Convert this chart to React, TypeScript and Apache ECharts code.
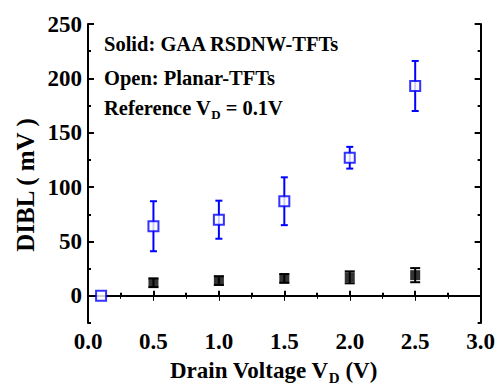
import React, { useEffect, useRef } from "react";
import * as echarts from "echarts";

const xPlanar = [0.1, 0.5, 1.0, 1.5, 2.0, 2.5];
const yPlanar = [0, 64, 70, 87, 127, 193];
const ePlanar = [0, 23, 17.5, 22, 10, 23];

const xGaa = [0.5, 1.0, 1.5, 2.0, 2.5];
const yGaa = [12, 14, 16, 17, 19];
const eGaa = [4, 4, 4, 5.5, 6.5];

const yMajor = [0, 50, 100, 150, 200, 250];
const yMinor = [-25, 25, 75, 125, 175, 225];

const FONT = "'Liberation Serif', 'Times New Roman', serif";
const BLUE = "#0000ff";

function errSeries(xs: number[], ys: number[], es: number[], color: string, cap: number) {
  return {
    type: "custom",
    xAxisIndex: 0,
    yAxisIndex: 0,
    silent: true,
    z: 1,
    data: xs.map((x, i) => [x, ys[i] - es[i], ys[i] + es[i]]),
    renderItem: (params: any, api: any) => {
      if (api.value(2) - api.value(1) <= 0) return null;
      const lo = api.coord([api.value(0), api.value(1)]);
      const hi = api.coord([api.value(0), api.value(2)]);
      const st = { stroke: color, lineWidth: 2 };
      return {
        type: "group",
        children: [
          { type: "line", shape: { x1: lo[0], y1: lo[1], x2: hi[0], y2: hi[1] }, style: st },
          { type: "line", shape: { x1: lo[0] - cap, y1: lo[1], x2: lo[0] + cap, y2: lo[1] }, style: st },
          { type: "line", shape: { x1: hi[0] - cap, y1: hi[1], x2: hi[0] + cap, y2: hi[1] }, style: st },
        ],
      };
    },
  };
}

export default function App() {
  const ref = useRef<HTMLDivElement>(null);
  useEffect(() => {
    const chart = echarts.init(ref.current!, null, { renderer: "svg" });
    const axLine = { show: true, lineStyle: { color: "#000", width: 2 } };
    const yBase = { type: "value", min: -25, max: 250, splitLine: { show: false } };
    chart.setOption({
      animation: false,
      backgroundColor: "#fff",
      grid: { left: 88, right: 15, top: 24, bottom: 62 },
      xAxis: [
        {
          type: "value", min: 0, max: 3, interval: 0.5, position: "bottom",
          axisLine: axLine,
          axisTick: { inside: true, length: 5, lineStyle: { width: 2, color: "#000" } },
          minorTick: { show: true, splitNumber: 2, length: 3, lineStyle: { width: 2, color: "#000" } },
          splitLine: { show: false },
          axisLabel: { color: "#000", fontFamily: FONT, fontWeight: "bold", fontSize: 23, margin: 7, formatter: (v: number) => v.toFixed(1) },
        },
        {
          type: "value", min: 0, max: 3, interval: 0.5, position: "top",
          axisLine: axLine,
          axisTick: { inside: true, length: 5, lineStyle: { width: 1, color: "#000" } },
          minorTick: { show: true, splitNumber: 2, length: 3, lineStyle: { width: 1, color: "#000" } },
          splitLine: { show: false },
          axisLabel: { show: false },
        },
      ],
      yAxis: [
        {
          ...yBase, position: "left",
          axisLine: axLine,
          axisTick: { inside: true, length: 6, customValues: yMajor, lineStyle: { width: 2, color: "#000" } },
          axisLabel: { customValues: yMajor, color: "#000", fontFamily: FONT, fontWeight: "bold", fontSize: 23, margin: 6 },
        },
        {
          ...yBase, position: "left",
          axisLine: { show: false },
          axisTick: { inside: true, length: 3, customValues: yMinor, lineStyle: { width: 2, color: "#000" } },
          axisLabel: { show: false },
        },
        {
          ...yBase, position: "right",
          axisLine: axLine,
          axisTick: { inside: true, length: 6, customValues: yMajor, lineStyle: { width: 2, color: "#000" } },
          axisLabel: { show: false },
        },
        {
          ...yBase, position: "right",
          axisLine: { show: false },
          axisTick: { inside: true, length: 3, customValues: yMinor, lineStyle: { width: 2, color: "#000" } },
          axisLabel: { show: false },
        },
      ],
      series: [
        errSeries(xPlanar, yPlanar, ePlanar, BLUE, 3.5),
        errSeries(xGaa, yGaa, eGaa, "#000", 5),
        {
          name: "Planar-TFTs", type: "scatter", z: 3,
          data: xPlanar.map((x, i) => [x, yPlanar[i]]),
          symbol: "rect", symbolSize: 10,
          itemStyle: { color: "#fff", borderColor: BLUE, borderWidth: 2 },
        },
        {
          name: "GAA RSDNW-TFTs", type: "scatter", z: 3,
          data: xGaa.map((x, i) => [x, yGaa[i]]),
          symbol: "rect", symbolSize: 10,
          itemStyle: { color: "#000" },
        },
      ],
      graphic: [
        { type: "text", left: 104, top: 33, style: { text: "Solid: GAA RSDNW-TFTs", font: `bold 20.5px ${FONT}`, fill: "#000" } },
        { type: "text", left: 104, top: 67, style: { text: "Open: Planar-TFTs", font: `bold 20.5px ${FONT}`, fill: "#000" } },
        {
          type: "text", left: 104, top: 97,
          style: {
            text: "Reference V{s|D} = 0.1V", font: `bold 20.5px ${FONT}`, fill: "#000",
            rich: { s: { font: `bold 13px ${FONT}`, fill: "#000", padding: [14, 0, 0, 0] } },
          },
        },
        {
          type: "text", left: 170, top: 359,
          style: {
            text: "Drain Voltage V{s|D} (V)", font: `bold 23px ${FONT}`, fill: "#000",
            rich: { s: { font: `bold 15px ${FONT}`, fill: "#000", padding: [15, 0, 0, 0] } },
          },
        },
        {
          type: "text", x: 25, y: 185, rotation: Math.PI / 2,
          style: { text: "DIBL ( mV )", font: `bold 25px ${FONT}`, fill: "#000", align: "center", verticalAlign: "middle" },
        },
      ],
    });
    return () => chart.dispose();
  }, []);
  return <div ref={ref} style={{ width: 498, height: 385, position: "absolute", left: 0, top: 0 }} />;
}
